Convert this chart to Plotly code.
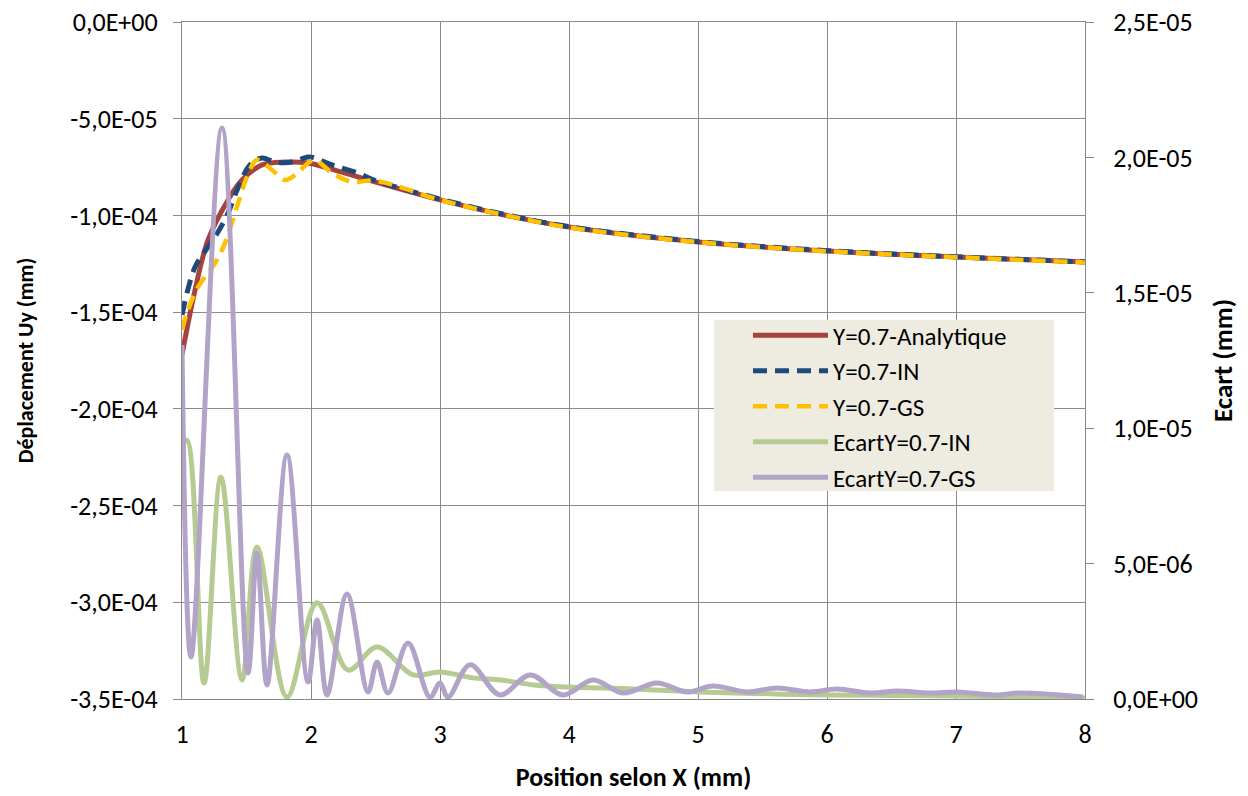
import plotly.graph_objects as go

# ---- data ----
x_ana = [1.000, 1.101, 1.202, 1.357, 1.465, 1.620, 1.798, 1.977, 2.240, 2.496, 3.0, 3.5, 4.0, 5.0, 6.0, 7.0, 8.0]
y_ana = [-1.72e-4, -1.386e-4, -1.127e-4, -0.920e-4, -0.817e-4, -0.739e-4, -0.724e-4, -0.729e-4,
         -0.776e-4, -0.827e-4, -0.920e-4, -0.998e-4, -1.060e-4, -1.137e-4, -1.184e-4, -1.215e-4, -1.241e-4]

x_in = [1.000, 1.101, 1.202, 1.279, 1.357, 1.434, 1.527, 1.620, 1.721, 1.853, 1.977, 2.031, 2.163, 2.364,
        2.5, 3.0, 3.5, 4.0, 5.0, 6.0, 7.0, 8.0]
y_in = [-1.515e-4, -1.267e-4, -1.163e-4, -1.086e-4, -0.987e-4, -0.858e-4, -0.739e-4, -0.703e-4, -0.724e-4,
        -0.724e-4, -0.698e-4, -0.703e-4, -0.739e-4, -0.781e-4, -0.820e-4, -0.915e-4, -0.995e-4, -1.058e-4,
        -1.135e-4, -1.182e-4, -1.214e-4, -1.240e-4]

x_gs = [1.000, 1.039, 1.124, 1.256, 1.333, 1.426, 1.504, 1.581, 1.698, 1.798, 1.876, 1.977, 2.031, 2.163,
        2.318, 2.496, 3.0, 3.5, 4.0, 5.0, 6.0, 7.0, 8.0]
y_gs = [-1.592e-4, -1.504e-4, -1.370e-4, -1.246e-4, -1.143e-4, -0.956e-4, -0.801e-4, -0.713e-4, -0.765e-4,
        -0.817e-4, -0.791e-4, -0.729e-4, -0.713e-4, -0.781e-4, -0.827e-4, -0.820e-4, -0.920e-4, -0.998e-4,
        -1.062e-4, -1.138e-4, -1.185e-4, -1.216e-4, -1.243e-4]

x_ecin = [1.000, 1.039, 1.171, 1.302, 1.465, 1.581, 1.814, 2.047, 2.287, 2.512, 2.791, 3.000, 3.256, 3.473,
          3.729, 3.992, 4.5, 5.0, 6.0, 7.0, 8.0]
y_ecin = [9.38e-6, 9.56e-6, 0.59e-6, 8.20e-6, 0.70e-6, 5.61e-6, 0.07e-6, 3.55e-6, 1.07e-6, 1.92e-6, 0.89e-6,
          1.00e-6, 0.78e-6, 0.70e-6, 0.52e-6, 0.44e-6, 0.37e-6, 0.26e-6, 0.15e-6, 0.11e-6, 0.04e-6]

x_ecgs = [1.000, 1.070, 1.310, 1.512, 1.581, 1.659, 1.814, 1.977, 2.047, 2.124, 2.279, 2.442, 2.512, 2.597,
          2.752, 2.922, 3.000, 3.062, 3.233, 3.465, 3.698, 3.953, 4.186, 4.419, 4.682, 4.915, 5.116, 5.380,
          5.612, 5.868, 6.078, 6.333, 6.543, 6.798, 7.008, 7.318, 7.496, 7.984]
y_ecgs = [13.07e-6, 1.55e-6, 21.09e-6, 0.96e-6, 5.39e-6, 0.52e-6, 9.01e-6, 0.63e-6, 2.92e-6, 0.15e-6,
          3.88e-6, 0.26e-6, 1.37e-6, 0.22e-6, 2.07e-6, 0.07e-6, 0.59e-6, 0.07e-6, 1.26e-6, 0.15e-6, 0.89e-6,
          0.15e-6, 0.70e-6, 0.22e-6, 0.59e-6, 0.26e-6, 0.48e-6, 0.26e-6, 0.41e-6, 0.26e-6, 0.37e-6, 0.22e-6,
          0.30e-6, 0.22e-6, 0.26e-6, 0.15e-6, 0.22e-6, 0.07e-6]

x_ticks = [1, 2, 3, 4, 5, 6, 7, 8]
y1_ticks = [0, -5e-5, -1e-4, -1.5e-4, -2e-4, -2.5e-4, -3e-4, -3.5e-4]
y1_labels = ["0,0E+00", "-5,0E-05", "-1,0E-04", "-1,5E-04", "-2,0E-04", "-2,5E-04", "-3,0E-04", "-3,5E-04"]
y2_ticks = [0, 5e-6, 1e-5, 1.5e-5, 2e-5, 2.5e-5]
y2_labels = ["0,0E+00", "5,0E-06", "1,0E-05", "1,5E-05", "2,0E-05", "2,5E-05"]

FONT = "Carlito, Lato, 'Liberation Sans', sans-serif"
GRID = "#8a8a8a"

fig = go.Figure()
fig.add_trace(go.Scatter(x=x_ana, y=y_ana, name="Y=0.7-Analytique", mode="lines",
                         line=dict(color="#A5433F", width=5, shape="spline")))
fig.add_trace(go.Scatter(x=x_in, y=y_in, name="Y=0.7-IN", mode="lines",
                         line=dict(color="#1F497D", width=5, dash="14px,8px", shape="spline")))
fig.add_trace(go.Scatter(x=x_gs, y=y_gs, name="Y=0.7-GS", mode="lines",
                         line=dict(color="#FFC000", width=4.5, dash="14px,8px", shape="spline")))
fig.add_trace(go.Scatter(x=x_ecin, y=y_ecin, name="EcartY=0.7-IN", mode="lines", yaxis="y2",
                         line=dict(color="#B5CB92", width=5, shape="spline")))
fig.add_trace(go.Scatter(x=x_ecgs, y=y_ecgs, name="EcartY=0.7-GS", mode="lines", yaxis="y2",
                         line=dict(color="#B2A3C8", width=5, shape="spline")))

# legend background box (drawn over the gridlines)
fig.add_shape(type="rect", xref="paper", yref="paper", x0=0.5891, x1=0.9657, y0=0.3072, y1=0.5598,
              fillcolor="#EEECE1", line=dict(width=0), layer="above")

fig.update_layout(
    width=1248, height=796,
    margin=dict(l=182, r=163, t=22, b=97),
    paper_bgcolor="white", plot_bgcolor="white",
    font=dict(family=FONT, size=26, color="#000000"),
    showlegend=True,
    legend=dict(x=0.6268, y=0.571, xanchor="left", yanchor="top",
                bgcolor="rgba(0,0,0,0)", borderwidth=0,
                font=dict(family=FONT, size=25, color="#000000"),
                itemwidth=75),
    xaxis=dict(range=[1, 8], tickvals=x_ticks, ticktext=[str(v) for v in x_ticks],
               showgrid=True, gridcolor=GRID, gridwidth=1.3, zeroline=False,
               showline=True, linecolor=GRID, linewidth=1.3, mirror=True, automargin=False,
               ticks="", ticklabelstandoff=12, ticklabeloverflow="allow",
               title=dict(text="<b>Position selon X (mm)</b>", font=dict(size=26), standoff=18)),
    yaxis=dict(range=[-3.5e-4, 0], tickvals=y1_ticks, ticktext=y1_labels,
               showgrid=True, gridcolor=GRID, gridwidth=1.3, zeroline=False,
               showline=True, linecolor=GRID, linewidth=1.3, mirror=True, automargin=False,
               ticks="outside", ticklen=8, tickcolor=GRID, ticklabelstandoff=10,
               ticklabeloverflow="allow",
               title=dict(text="<b>Déplacement Uy (mm)</b>", font=dict(size=22), standoff=30)),
    yaxis2=dict(range=[0, 2.5e-5], tickvals=y2_ticks, ticktext=y2_labels,
                overlaying="y", side="right", showgrid=False, zeroline=False, automargin=False,
                showline=False, ticks="outside", ticklen=8, tickcolor=GRID, ticklabelstandoff=14,
                ticklabeloverflow="allow",
                title=dict(text="<b>Ecart (mm)</b>", font=dict(size=27), standoff=16)),
)

fig.write_html("out.html", config={"displayModeBar": False},
               post_script="document.body.style.margin='0';")
